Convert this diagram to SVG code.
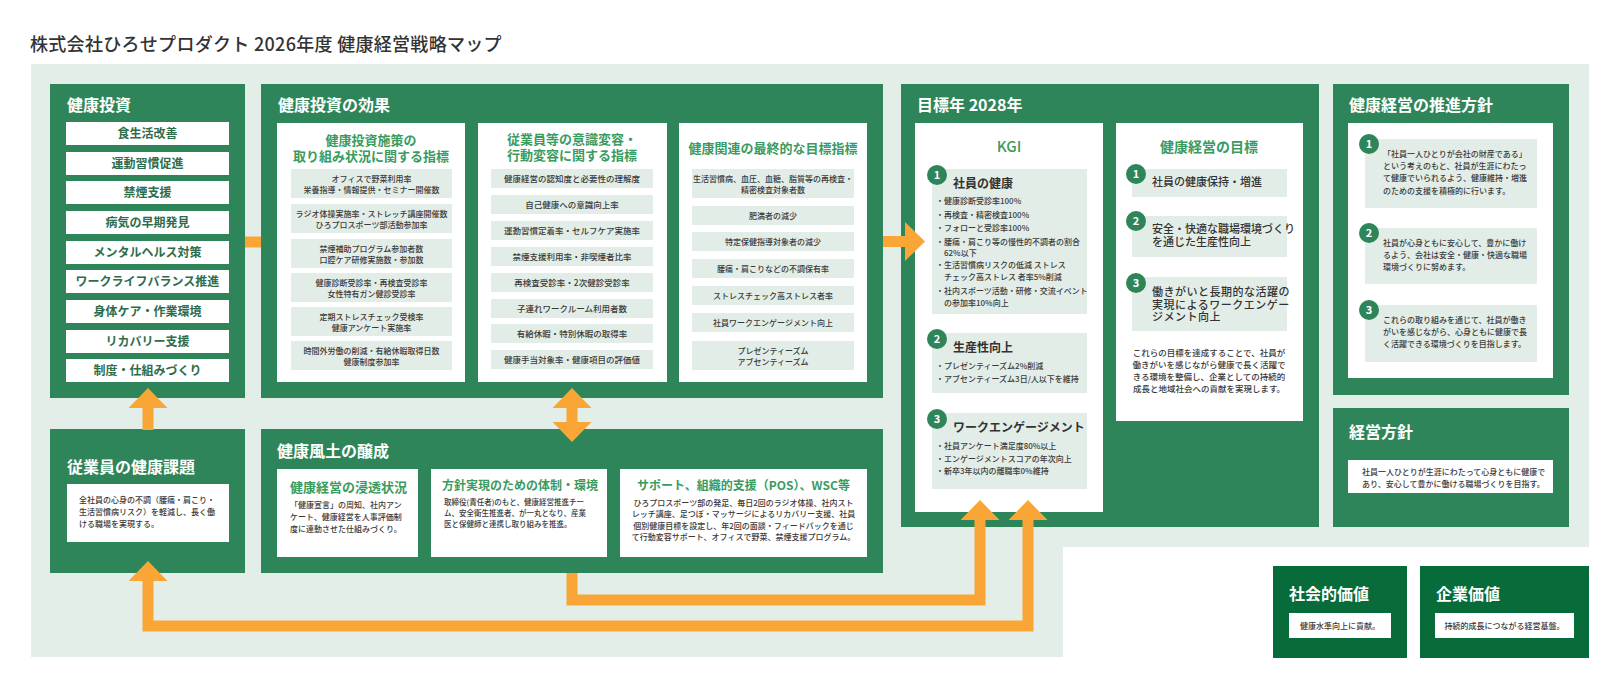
<svg xmlns="http://www.w3.org/2000/svg" width="1620" height="690" viewBox="0 0 1620 690">
<style>
text{font-family:"Noto Sans CJK JP","Noto Sans",sans-serif}
.panel{fill:#2f855a}
.dpanel{fill:#076b3a}
.bg{fill:#e3eee8}
.wbox{fill:#fff}
.gbox{fill:#e3ede7}
.pt{font-size:16px;font-weight:700;fill:#fff}
.item{font-size:12px;font-weight:700;fill:#2e6d4c;text-anchor:middle}
.sub{font-size:13px;font-weight:700;fill:#3a9b5f;text-anchor:middle}
.sm{font-size:8px;font-weight:500;fill:#3a3a3a;text-anchor:middle}
.sml{font-size:8px;font-weight:500;fill:#3a3a3a}
.sm85{font-size:8.5px;font-weight:500;fill:#3a3a3a;text-anchor:middle}
.hd{font-size:12px;font-weight:700;fill:#333}
.gl{font-size:11px;font-weight:500;fill:#333}
.numc{fill:#2f855a}
.numt{font-size:11px;font-weight:700;fill:#fff;text-anchor:middle}
.conn{fill:none;stroke:#f9a636;stroke-width:11;stroke-linejoin:miter}
</style>
<defs>
<marker id="ah" viewBox="0 -19.5 20 39" refX="0" refY="0" markerWidth="20" markerHeight="39" markerUnits="userSpaceOnUse" orient="auto-start-reverse">
<path d="M0,-19.5 L20,0 L0,19.5 Z" fill="#f9a636"/>
</marker>
</defs>
<rect width="1620" height="690" fill="#fff"/>
<text x="30" y="51" letter-spacing="0.3" style="font-size:18px;font-weight:500;fill:#333">株式会社ひろせプロダクト 2026年度 健康経営戦略マップ</text>
<path class="bg" d="M31,64 H1589 V547 H1063 V657 H31 Z"/>

<g id="kenko-toushi">
<rect class="panel" x="50" y="84" width="195" height="314"/>
<text class="pt" x="67" y="111">健康投資</text>
<rect class="wbox" x="66" y="122" width="163" height="23"/><text class="item" x="147.5" y="138">食生活改善</text>
<rect class="wbox" x="66" y="152" width="163" height="23"/><text class="item" x="147.5" y="168">運動習慣促進</text>
<rect class="wbox" x="66" y="181" width="163" height="23"/><text class="item" x="147.5" y="197">禁煙支援</text>
<rect class="wbox" x="66" y="211" width="163" height="23"/><text class="item" x="147.5" y="227">病気の早期発見</text>
<rect class="wbox" x="66" y="241" width="163" height="23"/><text class="item" x="147.5" y="257">メンタルヘルス対策</text>
<rect class="wbox" x="66" y="270" width="163" height="23"/><text class="item" x="147.5" y="286">ワークライフバランス推進</text>
<rect class="wbox" x="66" y="300" width="163" height="23"/><text class="item" x="147.5" y="316">身体ケア・作業環境</text>
<rect class="wbox" x="66" y="330" width="163" height="23"/><text class="item" x="147.5" y="346">リカバリー支援</text>
<rect class="wbox" x="66" y="359" width="163" height="23"/><text class="item" x="147.5" y="375">制度・仕組みづくり</text>
</g>

<g id="kouka">
<rect class="panel" x="261" y="84" width="622" height="314"/>
<text class="pt" x="278" y="111">健康投資の効果</text>
<g id="kouka-1">
<rect class="wbox" x="277" y="123" width="188" height="259"/>
<text class="sub" x="371" y="145">健康投資施策の</text>
<text class="sub" x="371" y="161">取り組み状況に関する指標</text>
<rect class="gbox" x="291" y="169" width="161" height="29"/>
<text class="sm" x="371.5" y="181.5">オフィスで野菜利用率</text><text class="sm" x="371.5" y="192.5">栄養指導・情報提供・セミナー開催数</text>
<rect class="gbox" x="291" y="204" width="161" height="29"/>
<text class="sm" x="371.5" y="216.5">ラジオ体操実施率・ストレッチ講座開催数</text><text class="sm" x="371.5" y="227.5">ひろプロスポーツ部活動参加率</text>
<rect class="gbox" x="291" y="239" width="161" height="29"/>
<text class="sm" x="371.5" y="251.5">禁煙補助プログラム参加者数</text><text class="sm" x="371.5" y="262.5">口腔ケア研修実施数・参加数</text>
<rect class="gbox" x="291" y="273" width="161" height="29"/>
<text class="sm" x="371.5" y="285.5">健康診断受診率・再検査受診率</text><text class="sm" x="371.5" y="296.5">女性特有ガン健診受診率</text>
<rect class="gbox" x="291" y="307" width="161" height="29"/>
<text class="sm" x="371.5" y="319.5">定期ストレスチェック受検率</text><text class="sm" x="371.5" y="330.5">健康アンケート実施率</text>
<rect class="gbox" x="291" y="341" width="161" height="29"/>
<text class="sm" x="371.5" y="353.5">時間外労働の削減・有給休暇取得日数</text><text class="sm" x="371.5" y="364.5">健康制度参加率</text>
</g>
<g id="kouka-2">
<rect class="wbox" x="478" y="123" width="189" height="259"/>
<text class="sub" x="572" y="144">従業員等の意識変容・</text>
<text class="sub" x="572" y="160">行動変容に関する指標</text>
<rect class="gbox" x="491" y="169" width="162" height="19"/><text class="sm85" x="572" y="181.5">健康経営の認知度と必要性の理解度</text>
<rect class="gbox" x="491" y="195" width="162" height="19"/><text class="sm85" x="572" y="207.5">自己健康への意識向上率</text>
<rect class="gbox" x="491" y="221" width="162" height="19"/><text class="sm85" x="572" y="233.5">運動習慣定着率・セルフケア実施率</text>
<rect class="gbox" x="491" y="247" width="162" height="19"/><text class="sm85" x="572" y="259.5">禁煙支援利用率・非喫煙者比率</text>
<rect class="gbox" x="491" y="273" width="162" height="19"/><text class="sm85" x="572" y="285.5">再検査受診率・2次健診受診率</text>
<rect class="gbox" x="491" y="299" width="162" height="19"/><text class="sm85" x="572" y="311.5">子連れワークルーム利用者数</text>
<rect class="gbox" x="491" y="324" width="162" height="19"/><text class="sm85" x="572" y="336.5">有給休暇・特別休暇の取得率</text>
<rect class="gbox" x="491" y="350" width="162" height="19"/><text class="sm85" x="572" y="362.5">健康手当対象率・健康項目の評価値</text>
</g>
<g id="kouka-3">
<rect class="wbox" x="679" y="123" width="188" height="259"/>
<text class="sub" x="773" y="153">健康関連の最終的な目標指標</text>
<rect class="gbox" x="692" y="169" width="162" height="29"/>
<text class="sm" x="773" y="181.5">生活習慣病、血圧、血糖、脂質等の再検査・</text><text class="sm" x="773" y="192.5">精密検査対象者数</text>
<rect class="gbox" x="692" y="206" width="162" height="19"/><text class="sm" x="773" y="218.5">肥満者の減少</text>
<rect class="gbox" x="692" y="232" width="162" height="19"/><text class="sm" x="773" y="244.5">特定保健指導対象者の減少</text>
<rect class="gbox" x="692" y="259" width="162" height="19"/><text class="sm" x="773" y="271.5">腰痛・肩こりなどの不調保有率</text>
<rect class="gbox" x="692" y="286" width="162" height="19"/><text class="sm" x="773" y="298.5">ストレスチェック高ストレス者率</text>
<rect class="gbox" x="692" y="313" width="162" height="19"/><text class="sm" x="773" y="325.5">社員ワークエンゲージメント向上</text>
<rect class="gbox" x="692" y="341" width="162" height="29"/>
<text class="sm" x="773" y="353.5">プレゼンティーズム</text><text class="sm" x="773" y="364.5">アブセンティーズム</text>
</g>
</g>

<g id="jugyoin-kadai">
<rect class="panel" x="50" y="429" width="195" height="144"/>
<text class="pt" x="67" y="473">従業員の健康課題</text>
<rect class="wbox" x="67" y="484" width="162" height="58"/>
<text class="sml" x="79" y="503">全社員の心身の不調（腰痛・肩こり・</text>
<text class="sml" x="79" y="515">生活習慣病リスク）を軽減し、長く働</text>
<text class="sml" x="79" y="527">ける職場を実現する。</text>
</g>

<g id="fudo">
<rect class="panel" x="261" y="429" width="622" height="144"/>
<text class="pt" x="277" y="457">健康風土の醸成</text>
<rect class="wbox" x="277" y="469" width="141" height="88"/>
<text x="290" y="492" style="font-size:13px;font-weight:700;fill:#3a9b5f">健康経営の浸透状況</text>
<text class="sml" x="290" y="508">「健康宣言」の周知、社内アン</text>
<text class="sml" x="290" y="520">ケート、健康経営を人事評価制</text>
<text class="sml" x="290" y="532">度に連動させた仕組みづくり。</text>
<rect class="wbox" x="431" y="469" width="176" height="88"/>
<text x="442" y="490" style="font-size:12px;font-weight:700;fill:#3a9b5f">方針実現のための体制・環境</text>
<text x="444" y="505" style="font-size:7.5px;font-weight:500;fill:#3a3a3a">取締役(責任者)のもと、健康経営推進チー</text>
<text x="444" y="516" style="font-size:7.5px;font-weight:500;fill:#3a3a3a">ム、安全衛生推進者、が一丸となり、産業</text>
<text x="444" y="527" style="font-size:7.5px;font-weight:500;fill:#3a3a3a">医と保健師と連携し取り組みを推進。</text>
<rect class="wbox" x="620" y="469" width="247" height="88"/>
<text x="743.5" y="490" style="font-size:12px;font-weight:700;fill:#3a9b5f;text-anchor:middle">サポート、組織的支援（POS）、WSC等</text>
<text class="sm" x="743.5" y="506">ひろプロスポーツ部の発足、毎日2回のラジオ体操、社内スト</text>
<text class="sm" x="743.5" y="517">レッチ講座、足つぼ・マッサージによるリカバリー支援、社員</text>
<text class="sm" x="743.5" y="529">個別健康目標を設定し、年2回の面談・フィードバックを通じ</text>
<text class="sm" x="743.5" y="540">て行動変容サポート、オフィスで野菜、禁煙支援プログラム。</text>
</g>

<g id="mokuhyo">
<rect class="panel" x="901" y="84" width="418" height="443"/>
<text class="pt" x="917" y="111">目標年 2028年</text>
<g id="kgi">
<rect class="wbox" x="915" y="123" width="188" height="389"/>
<text x="1009" y="152" style="font-size:15px;font-weight:500;fill:#3a9b5f;text-anchor:middle">KGI</text>
<rect class="gbox" x="932" y="169" width="155" height="145"/>
<circle class="numc" cx="937" cy="175" r="10"/><text class="numt" x="937" y="179">1</text>
<text class="hd" x="953" y="188">社員の健康</text>
<text class="sml" x="936" y="204">・健康診断受診率100%</text>
<text class="sml" x="936" y="218">・再検査・精密検査100%</text>
<text class="sml" x="936" y="231">・フォローと受診率100%</text>
<text class="sml" x="936" y="245">・腰痛・肩こり等の慢性的不調者の割合</text>
<text class="sml" x="944" y="256">62%以下</text>
<text class="sml" x="936" y="268">・生活習慣病リスクの低減 ストレス</text>
<text class="sml" x="944" y="280">チェック高ストレス 者率5%削減</text>
<text class="sml" x="936" y="294">・社内スポーツ活動・研修・交流イベント</text>
<text class="sml" x="944" y="306">の参加率10%向上</text>
<rect class="gbox" x="932" y="333" width="155" height="60"/>
<circle class="numc" cx="937" cy="339" r="10"/><text class="numt" x="937" y="343">2</text>
<text class="hd" x="953" y="352">生産性向上</text>
<text class="sml" x="936" y="369">・プレゼンティーズム2%削減</text>
<text class="sml" x="936" y="382">・アブセンティーズム3日/人以下を維持</text>
<rect class="gbox" x="932" y="413" width="155" height="76"/>
<circle class="numc" cx="937" cy="419" r="10"/><text class="numt" x="937" y="423">3</text>
<text class="hd" x="953" y="432">ワークエンゲージメント</text>
<text class="sml" x="936" y="449">・社員アンケート満足度80%以上</text>
<text class="sml" x="936" y="462">・エンゲージメントスコアの年次向上</text>
<text class="sml" x="936" y="474">・新卒3年以内の離職率0%維持</text>
</g>
<g id="keiei-mokuhyo">
<rect class="wbox" x="1116" y="123" width="187" height="298"/>
<text x="1209" y="152" style="font-size:14px;font-weight:700;fill:#3a9b5f;text-anchor:middle">健康経営の目標</text>
<rect class="gbox" x="1132" y="169" width="155" height="28"/>
<circle class="numc" cx="1136" cy="174" r="10"/><text class="numt" x="1136" y="178">1</text>
<text class="gl" x="1152" y="186">社員の健康保持・増進</text>
<rect class="gbox" x="1132" y="216" width="155" height="41"/>
<circle class="numc" cx="1136" cy="221" r="10"/><text class="numt" x="1136" y="225">2</text>
<text class="gl" x="1152" y="233">安全・快適な職場環境づくり</text>
<text class="gl" x="1152" y="246">を通じた生産性向上</text>
<rect class="gbox" x="1132" y="277" width="155" height="54"/>
<circle class="numc" cx="1136" cy="283" r="10"/><text class="numt" x="1136" y="287">3</text>
<text class="gl" x="1152" y="296" letter-spacing="0.5">働きがいと長期的な活躍の</text>
<text class="gl" x="1152" y="308.5" letter-spacing="0.5">実現によるワークエンゲー</text>
<text class="gl" x="1152" y="321" letter-spacing="0.5">ジメント向上</text>
<text class="sm85" x="1209" y="356">これらの目標を達成することで、社員が</text>
<text class="sm85" x="1209" y="368">働きがいを感じながら健康で長く活躍で</text>
<text class="sm85" x="1209" y="380">きる環境を整備し、企業としての持続的</text>
<text class="sm85" x="1209" y="392">成長と地域社会への貢献を実現します。</text>
</g>
</g>

<g id="suishin-houshin">
<rect class="panel" x="1333" y="84" width="236" height="311"/>
<text class="pt" x="1349" y="111">健康経営の推進方針</text>
<rect class="wbox" x="1348" y="123" width="205" height="255"/>
<rect class="gbox" x="1365" y="139" width="172" height="69"/>
<circle class="numc" cx="1369" cy="144" r="10"/><text class="numt" x="1369" y="148">1</text>
<text class="sml" x="1383" y="157">「社員一人ひとりが会社の財産である」</text>
<text class="sml" x="1383" y="169">という考えのもと、社員が生涯にわたっ</text>
<text class="sml" x="1383" y="181">て健康でいられるよう、健康維持・増進</text>
<text class="sml" x="1383" y="194">のための支援を積極的に行います。</text>
<rect class="gbox" x="1365" y="228" width="172" height="56"/>
<circle class="numc" cx="1369" cy="233" r="10"/><text class="numt" x="1369" y="237">2</text>
<text class="sml" x="1383" y="246">社員が心身ともに安心して、豊かに働け</text>
<text class="sml" x="1383" y="258">るよう、会社は安全・健康・快適な職場</text>
<text class="sml" x="1383" y="270">環境づくりに努めます。</text>
<rect class="gbox" x="1365" y="305" width="172" height="57"/>
<circle class="numc" cx="1369" cy="310" r="10"/><text class="numt" x="1369" y="314">3</text>
<text class="sml" x="1383" y="323">これらの取り組みを通じて、社員が働き</text>
<text class="sml" x="1383" y="335">がいを感じながら、心身ともに健康で長</text>
<text class="sml" x="1383" y="347">く活躍できる環境づくりを目指します。</text>
</g>

<g id="keiei-houshin">
<rect class="panel" x="1333" y="408" width="236" height="119"/>
<text class="pt" x="1349" y="438">経営方針</text>
<rect class="wbox" x="1348" y="460" width="205" height="33"/>
<text class="sml" x="1362" y="475">社員一人ひとりが生涯にわたって心身ともに健康で</text>
<text class="sml" x="1362" y="487">あり、安心して豊かに働ける職場づくりを目指す。</text>
</g>

<g id="shakai-kachi">
<rect class="dpanel" x="1273" y="566" width="134" height="92"/>
<text class="pt" x="1289" y="600">社会的価値</text>
<rect class="wbox" x="1289" y="613" width="102" height="25"/>
<text class="sm" x="1340" y="628.5">健康水準向上に貢献。</text>
</g>

<g id="kigyo-kachi">
<rect class="dpanel" x="1420" y="566" width="169" height="92"/>
<text class="pt" x="1436" y="600">企業価値</text>
<rect class="wbox" x="1435" y="613" width="139" height="25"/>
<text class="sm" x="1504.5" y="628.5">持続的成長につながる経営基盤。</text>
</g>

<g id="connectors">
<path class="conn" d="M245,242 H261" stroke-width="10"/>
<path class="conn" d="M883,241.5 H905" marker-end="url(#ah)"/>
<path class="conn" d="M148,430 V408" marker-end="url(#ah)"/>
<path class="conn" d="M572,422 V408" marker-start="url(#ah)" marker-end="url(#ah)"/>
<path class="conn" d="M572,573 V600 H980 V520" marker-end="url(#ah)"/>
<path class="conn" d="M148,581 V626 H1028 V520" marker-start="url(#ah)" marker-end="url(#ah)"/>
</g>
</svg>
